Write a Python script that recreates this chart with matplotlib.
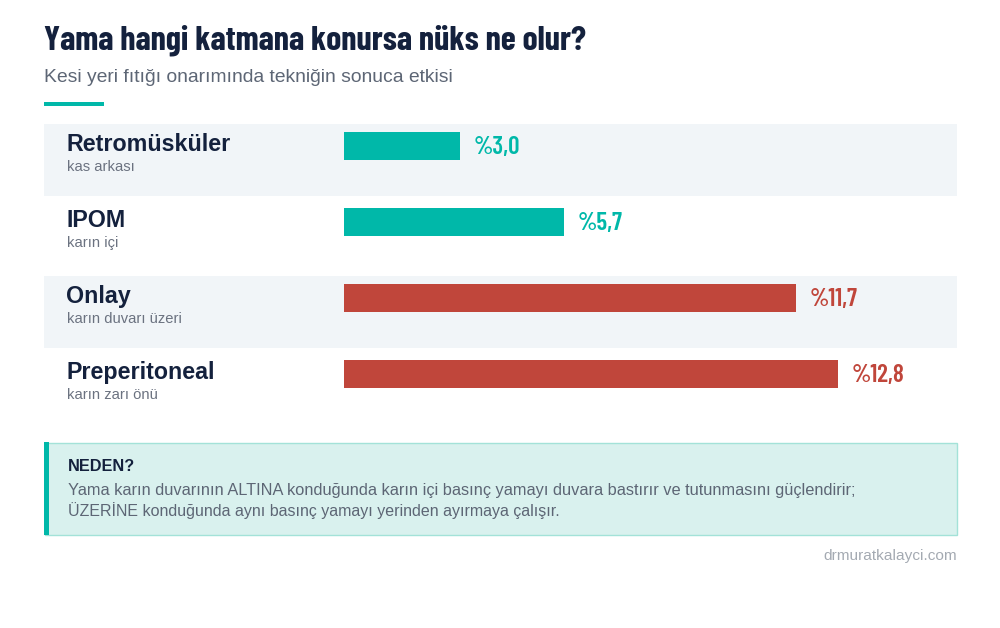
import matplotlib
matplotlib.use("Agg")
import matplotlib.pyplot as plt
from matplotlib import font_manager
from matplotlib.patches import Rectangle

# ---------------- data ----------------
categories = ["Retromüsküler", "IPOM", "Onlay", "Preperitoneal"]
descriptions = ["kas arkası", "karın içi", "karın duvarı üzeri", "karın zarı önü"]
recurrence = [3.0, 5.7, 11.7, 12.8]
value_labels = ["%3,0", "%5,7", "%11,7", "%12,8"]
placement = ["under", "under", "over", "over"]

title = "Yama hangi katmana konursa nüks ne olur?"
subtitle = "Kesi yeri fıtığı onarımında tekniğin sonuca etkisi"
note_head = "NEDEN?"
note_lines = ["Yama karın duvarının ALTINA konduğunda karın içi basınç yamayı duvara bastırır ve tutunmasını güçlendirir;",
              "ÜZERİNE konduğunda aynı basınç yamayı yerinden ayırmaya çalışır."]
footer = "drmuratkalayci.com"

# ---------------- style ----------------
TEAL = "#00b8a9"
RED = "#c0463b"
NAVY = "#14213d"
GREY = "#5d6675"
SUBGREY = "#6b7280"
BAND = "#f1f5f8"
colors = {"under": TEAL, "over": RED}

names = {f.name for f in font_manager.fontManager.ttflist}

def pick(cands, default):
    for c in cands:
        if c in names:
            return c
    return default

COND = pick(["Barlow Condensed", "Roboto Condensed", "Oswald"], "DejaVu Sans")
SANS = pick(["Liberation Sans", "Arial", "Helvetica"], "DejaVu Sans")

W, H = 1000, 628
fig = plt.figure(figsize=(W / 100, H / 100), dpi=100)
fig.patch.set_facecolor("white")
bg = fig.add_axes([0, 0, 1, 1])
bg.set_xlim(0, W)
bg.set_ylim(H, 0)
bg.axis("off")

PX = 0.72  # px -> pt
renderer = fig.canvas.get_renderer()

def fit_width(t, target_px):
    w = t.get_window_extent(renderer).width
    if w > 0:
        t.set_fontsize(t.get_fontsize() * target_px / w)

# title / subtitle
t_title = bg.text(44, 50, title, fontsize=34 * PX, fontweight=700, family=COND,
                  color=NAVY, va="baseline", ha="left")
fit_width(t_title, 542)
bg.text(44, 82, subtitle, fontsize=19.3 * PX, family=SANS, color=GREY, va="baseline", ha="left")
bg.add_patch(Rectangle((44, 102), 60, 4, color=TEAL, lw=0))

# row bands and labels
pitch = 76
for i, (cat, desc) in enumerate(zip(categories, descriptions)):
    if i % 2 == 0:
        bg.add_patch(Rectangle((44, 124 + pitch * i), 913, 72, color=BAND, lw=0, zorder=0))
    bg.text(66, 151 + pitch * i, cat, fontsize=23.3 * PX, fontweight="bold", family=SANS,
            color=NAVY, va="baseline")
    bg.text(67, 171 + pitch * i, desc, fontsize=14.8 * PX, family=SANS, color=SUBGREY, va="baseline")

# bar axes: x from 344px, 38.6 px per unit
left_px, right_px = 344, 957
top_px, bot_px = 108, 412
ax = fig.add_axes([left_px / W, 1 - bot_px / H, (right_px - left_px) / W, (bot_px - top_px) / H])
ax.set_facecolor("none")
ax.set_xlim(0, (right_px - left_px) / 38.6)
ax.set_ylim(len(categories) - 0.5, -0.5)
ax.axis("off")
ypos = list(range(len(categories)))
bar_colors = [colors[p] for p in placement]
ax.barh(ypos, recurrence, height=28 / pitch, color=bar_colors, lw=0)
for y, v, lab, c in zip(ypos, recurrence, value_labels, bar_colors):
    ax.annotate(lab, (v, y), xytext=(14, -8), textcoords="offset pixels", ha="left", va="baseline",
                fontsize=25 * PX, fontweight=600, family=COND, color=c)

# note box
bg.add_patch(Rectangle((44.5, 442.5), 912, 92, facecolor="#d9f1ee", edgecolor="#a3e2d8", lw=1))
bg.add_patch(Rectangle((44, 442), 5, 93, color=TEAL, lw=0))
bg.text(68, 471, note_head, fontsize=16.3 * PX, fontweight="bold", family=SANS, color=NAVY,
        va="baseline")
for k, line in enumerate(note_lines):
    t_line = bg.text(68, 495 + 21 * k, line, fontsize=16 * PX, family=SANS, color=GREY, va="baseline")
    if k == 0:
        fit_width(t_line, 790)

bg.text(957, 560, footer, fontsize=15.4 * PX, family=SANS, color="#a4aab2", ha="right", va="baseline")

fig.savefig("out.png", dpi=100, facecolor="white")
